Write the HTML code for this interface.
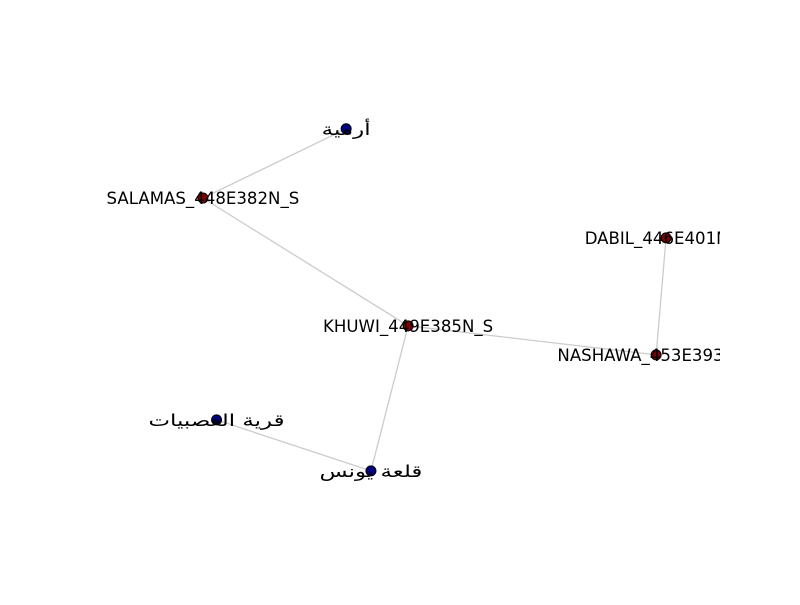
<!DOCTYPE html>
<html><head><meta charset="utf-8"><style>
html,body{margin:0;padding:0;background:#fff;}
svg text{font-family:"DejaVu Sans","Liberation Sans","Noto Sans CJK SC",sans-serif;font-size:16.6px;fill:#000;}
</style></head><body>
<svg id="chart" width="800" height="600" viewBox="0 0 800 600" xmlns="http://www.w3.org/2000/svg">
<defs><clipPath id="clip"><rect x="100" y="60" width="620" height="468"/></clipPath></defs>
<g id="plot" clip-path="url(#clip)">
<g id="edges"></g>
<g id="nodes"></g>
<g id="labels"></g>
</g>
</svg>
<script>
const nodeNames = ["أرمية","SALAMAS_448E382N_S","DABIL_446E401N_S","KHUWI_449E385N_S","NASHAWA_453E393N_S","قرية العصبيات","قلعة يونس"];
const nodeX = [0.397,0.166,0.913,0.497,0.897,0.188,0.437];
const nodeY = [0.853,0.705,0.620,0.432,0.370,0.231,0.122];
const nodeGroup = ["place","route","route","route","route","place","place"];
const edgeFrom = [0,1,3,4,3,6];
const edgeTo = [1,3,4,2,6,5];
const sx = v => 100 + v*620;
const sy = v => 528 - v*468;
const colors = {place:"#000080", route:"#800000"};
const NS = "http://www.w3.org/2000/svg";
const eg = document.getElementById('edges'), ng = document.getElementById('nodes'), lg = document.getElementById('labels');
for (let i=0;i<edgeFrom.length;i++){
  const l=document.createElementNS(NS,'line');
  l.setAttribute('x1',sx(nodeX[edgeFrom[i]]));l.setAttribute('y1',sy(nodeY[edgeFrom[i]]));
  l.setAttribute('x2',sx(nodeX[edgeTo[i]]));l.setAttribute('y2',sy(nodeY[edgeTo[i]]));
  l.setAttribute('stroke','#cccccc');l.setAttribute('stroke-width','1.3');
  
  
  eg.appendChild(l);
}
for (let i=0;i<nodeNames.length;i++){
  const c=document.createElementNS(NS,'circle');
  c.setAttribute('cx',sx(nodeX[i]));c.setAttribute('cy',sy(nodeY[i]));c.setAttribute('r','5');
  c.setAttribute('fill',colors[nodeGroup[i]]);c.setAttribute('stroke','#000');c.setAttribute('stroke-width','1');
  
  
  ng.appendChild(c);
  const t=document.createElementNS(NS,'text');
  t.setAttribute('x',sx(nodeX[i]));t.setAttribute('y',sy(nodeY[i])+6);
  t.setAttribute('text-anchor','middle');
  t.textContent=nodeNames[i];
  
  
  lg.appendChild(t);
  if (/[\u0600-\u06FF]/.test(nodeNames[i])) {
    const w = t.getComputedTextLength();
    t.setAttribute('textLength', (w*1.38).toFixed(1));
    t.setAttribute('lengthAdjust','spacingAndGlyphs');
  }
}
</script>
</body></html>
